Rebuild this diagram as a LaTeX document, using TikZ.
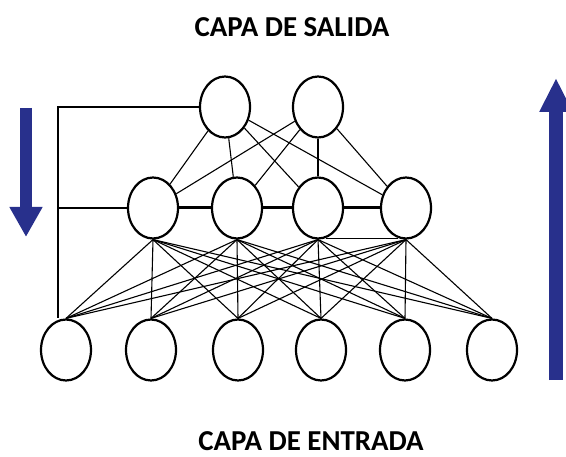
\documentclass[tikz,border=0pt]{standalone}
\usepackage{fontspec}
\setmainfont{Carlito}
\usepackage{tikz}
\usetikzlibrary{shapes.geometric}
\usetikzlibrary{arrows.meta}
\definecolor{azulflecha}{RGB}{40,48,140}

\begin{document}
\begin{tikzpicture}[x=1bp,y=-1bp,
	neurona/.style={ellipse,draw,line width=2.2bp,fill=white,minimum width=50bp,minimum height=61bp,inner sep=0pt},
	sinapsis/.style={line width=1.1bp},
	lateral/.style={line width=3bp},
	retro/.style={line width=2.2bp},
	flechaazul/.style={draw=azulflecha,line width=#1},
	titulo/.style={font=\fontsize{29}{34}\selectfont\bfseries,anchor=base,inner sep=0pt}]
\useasboundingbox (0,0) rectangle (566,457);

%capa de salida
\node[neurona] (o1) at (225,107) {};
\node[neurona] (o2) at (318,107) {};
%capa oculta
\node[neurona] (h1) at (153,208) {};
\node[neurona] (h2) at (237,208) {};
\node[neurona] (h3) at (318,208) {};
\node[neurona] (h4) at (406,208) {};
%capa de entrada
\node[neurona] (i1) at (66,350) {};
\node[neurona] (i2) at (151,350) {};
\node[neurona] (i3) at (238,350) {};
\node[neurona] (i4) at (321,350) {};
\node[neurona] (i5) at (405,350) {};
\node[neurona] (i6) at (492,350) {};

\node[titulo] (salida) at (292,37) {CAPA DE SALIDA};
\node[titulo] (entrada) at (311,450) {CAPA DE ENTRADA};

\foreach \h in {1,...,4}
{
	\foreach \o in {1,2}
		\path[sinapsis] (o\o) edge (h\h);
	\foreach \i in {1,...,6}
		\path[sinapsis] (h\h.south) edge (i\i.north);
}
\path[sinapsis] (h3.-75) edge (h4.-105);

%conexiones laterales
\path[lateral]
(h1) edge (h2)
(h2) edge (h3)
(h3) edge (h4)
;

%retroalimentacion
\coordinate (fb) at (58,0);
\draw[retro] (o1.west) -| (fb |- i1.north);
\draw[retro] (h1.west) -- (h1.west -| fb);

%flechas
\coordinate (baja-a) at (26,108);
\coordinate (baja-b) at (26,237);
\coordinate (sube-a) at (556,380);
\coordinate (sube-b) at (556,78);
\draw[flechaazul=12bp,-{Triangle[width=31bp,length=30bp,fill=azulflecha]}] (baja-a) -- (baja-b);
\draw[flechaazul=14bp,-{Triangle[width=31bp,length=34bp,fill=azulflecha]}] (sube-a) -- (sube-b);
\end{tikzpicture}
\end{document}
